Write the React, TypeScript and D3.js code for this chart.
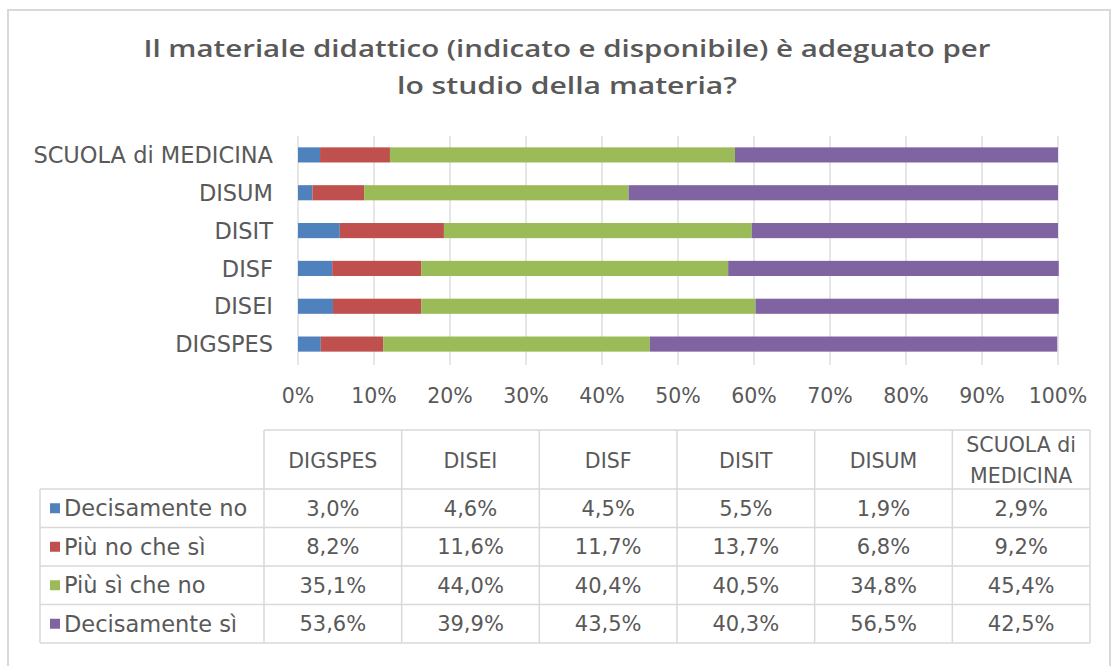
import React from "react";
import * as d3 from "d3";

const categories = ["DIGSPES", "DISEI", "DISF", "DISIT", "DISUM", "SCUOLA di MEDICINA"];
const seriesNames = ["Decisamente no", "Più no che sì", "Più sì che no", "Decisamente sì"];
const colors = ["#4F81BD", "#C0504D", "#9BBB59", "#8064A2"];
const decisamenteNo = [3.0, 4.6, 4.5, 5.5, 1.9, 2.9];
const piuNoCheSi = [8.2, 11.6, 11.7, 13.7, 6.8, 9.2];
const piuSiCheNo = [35.1, 44.0, 40.4, 40.5, 34.8, 45.4];
const decisamenteSi = [53.6, 39.9, 43.5, 40.3, 56.5, 42.5];
const xTicks = [0, 10, 20, 30, 40, 50, 60, 70, 80, 90, 100];

const series = [decisamenteNo, piuNoCheSi, piuSiCheNo, decisamenteSi];
const FONT = "'DejaVu Sans', 'Liberation Sans', sans-serif";
const TITLE_FONT = "'Open Sans', 'Liberation Sans', sans-serif";
const TXT = "#595959";

export default function App() {
  const width = 1117;
  const height = 666;

  // rows as objects for the stack layout
  const rows = categories.map((c, i) => {
    const r: any = { cat: c };
    seriesNames.forEach((s, k) => (r[s] = series[k][i]));
    return r;
  });
  const stacked = d3.stack().keys(seriesNames)(rows);

  const x = d3.scaleLinear().domain([0, 100]).range([298, 1058]);
  const y = d3
    .scaleBand()
    .domain([...categories].reverse())
    .range([136, 363])
    .paddingInner(0.6)
    .paddingOuter(0.3);

  const fmt = (v: number) => v.toFixed(1).replace(".", ",") + "%";

  // table geometry
  const colX = d3.scaleBand().domain(categories).range([264, 1090]);
  const rowY = d3.scaleBand().domain(seriesNames).range([489, 643]);
  const headTop = 430;
  const tableLeft = 40;

  return (
    <svg
      width={width}
      height={height}
      style={{ position: "absolute", left: 0, top: 0, background: "#fff" }}
      fontFamily={FONT}
    >
      <rect x={8} y={10} width={1102} height={680} fill="#fff" stroke="#D9D9D9" strokeWidth={2} />
      <g fontFamily={TITLE_FONT} fontSize={24} fontWeight={600} fill={TXT} textAnchor="middle">
        <text x={567} y={57} textLength={847} lengthAdjust="spacingAndGlyphs">
          Il materiale didattico (indicato e disponibile) è adeguato per
        </text>
        <text x={567} y={94} textLength={340} lengthAdjust="spacingAndGlyphs">
          lo studio della materia?
        </text>
      </g>

      {/* gridlines */}
      {xTicks.map((t) => (
        <line key={t} x1={x(t)} x2={x(t)} y1={136} y2={365} stroke="#D9D9D9" strokeWidth={1.3} />
      ))}

      {/* bars */}
      {stacked.map((s, k) =>
        s.map((d: any) => (
          <rect
            key={k + d.data.cat}
            x={x(d[0])}
            width={x(d[1]) - x(d[0])}
            y={y(d.data.cat)}
            height={y.bandwidth()}
            fill={colors[k]}
          />
        ))
      )}

      {/* category labels */}
      {categories.map((c) => (
        <text
          key={c}
          x={273}
          y={(y(c) ?? 0) + y.bandwidth() / 2}
          dy="0.36em"
          textAnchor="end"
          fontSize={22.5}
          fill={TXT}
        >
          {c}
        </text>
      ))}

      {/* x tick labels */}
      {xTicks.map((t) => (
        <text key={t} x={x(t)} y={403} textAnchor="middle" fontSize={20.5} fill={TXT}>
          {t + "%"}
        </text>
      ))}

      {/* data table */}
      <g stroke="#D9D9D9" strokeWidth={1.5} fill="none">
        <line x1={264} x2={1090} y1={headTop} y2={headTop} />
        {[...seriesNames.map((s) => rowY(s) ?? 0), 643].map((yy, i) => (
          <line key={i} x1={tableLeft} x2={1090} y1={yy} y2={yy} />
        ))}
        <line x1={tableLeft} x2={tableLeft} y1={489} y2={643} />
        {[...categories.map((c) => colX(c) ?? 0), 1090].map((xx, i) => (
          <line key={i} x1={xx} x2={xx} y1={headTop} y2={643} />
        ))}
      </g>
      {categories.map((c) => {
        const cx = (colX(c) ?? 0) + colX.bandwidth() / 2;
        const words = c === "SCUOLA di MEDICINA" ? ["SCUOLA di", "MEDICINA"] : [c];
        return (
          <g key={c}>
            {words.length === 1 ? (
              <text x={cx} y={468} textAnchor="middle" fontSize={20.5} fill={TXT}>
                {c}
              </text>
            ) : (
              words.map((w, i) => (
                <text key={w} x={cx} y={452 + i * 31} textAnchor="middle" fontSize={20.5} fill={TXT}>
                  {w}
                </text>
              ))
            )}
          </g>
        );
      })}
      {seriesNames.map((s, k) => {
        const ry = (rowY(s) ?? 0) + rowY.bandwidth() / 2;
        return (
          <g key={s}>
            <rect x={50} y={ry - 5} width={10} height={10} fill={colors[k]} />
            <text x={64} y={ry} dy="0.36em" fontSize={22.5} fill={TXT}>
              {s}
            </text>
            {categories.map((c, i) => (
              <text
                key={c}
                x={(colX(c) ?? 0) + colX.bandwidth() / 2}
                y={ry}
                dy="0.36em"
                textAnchor="middle"
                fontSize={21}
                fill={TXT}
              >
                {fmt(series[k][i])}
              </text>
            ))}
          </g>
        );
      })}
    </svg>
  );
}
